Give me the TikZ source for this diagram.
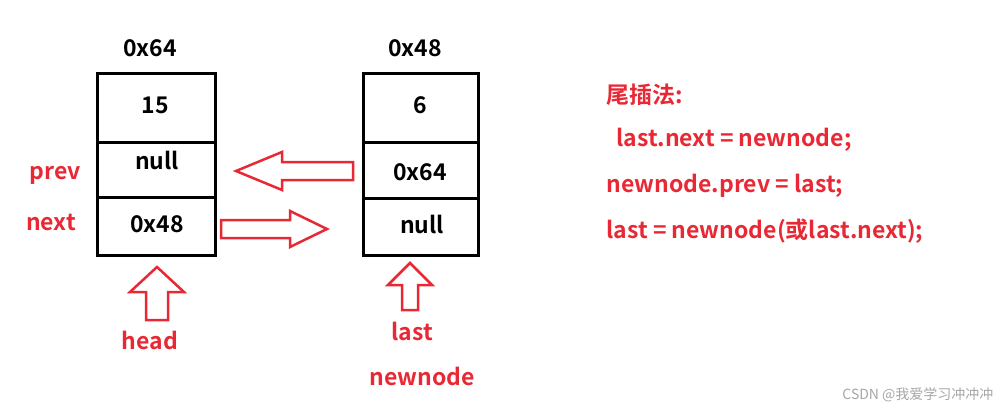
\documentclass[tikz,border=0pt]{standalone}
\usepackage{fontspec}
\setmainfont{Noto Sans CJK SC}[BoldFont={* Bold}]
\definecolor{myred}{RGB}{232,40,52}
\begin{document}
\begin{tikzpicture}[x=1pt,y=-1pt,
  cell/.style={draw=black,line width=3pt},
  t/.style={font=\bfseries\fontsize{23}{26}\selectfont},
  rt/.style={t,text=myred},
  ba/.style={draw=myred,line width=2.5pt,line join=miter}]
\useasboundingbox (0,0) rectangle (1002,412);
\draw[cell] (97,74) rectangle (215,255);
\draw[cell] (97,142) -- (215,142) (97,197) -- (215,197);
\draw[cell] (363,74) rectangle (478,255);
\draw[cell] (363,142) -- (478,142) (363,198) -- (478,198);
\node[t] (a1) at (150,48) {0x64};
\node[t] (a2) at (415,48) {0x48};
\node[t] (l1) at (155,105) {15};
\node[t] (l2) at (157,160) {null};
\node[t] (l3) at (157,224) {0x48};
\node[t] (r1) at (420,105) {6};
\node[t] (r2) at (420,172) {0x64};
\node[t] (r3) at (422,224) {null};
\node[rt] (prev) at (55,175) {prev};
\node[rt] (next) at (51,222) {next};
\node[rt] (head) at (150,340) {head};
\node[rt] (last) at (412,331) {last};
\node[rt] (nn) at (422,376) {newnode};
\draw[ba] (353,162) -- (282,162) -- (282,152) -- (236,171) -- (282,190) -- (282,180) -- (353,180) -- cycle;
\draw[ba] (221,220) -- (290,220) -- (290,211) -- (327,229) -- (290,247) -- (290,238) -- (221,238) -- cycle;
\draw[ba] (157,267) -- (184,292) -- (168,292) -- (168,320) -- (146,320) -- (146,292) -- (130,292) -- cycle;
\draw[ba] (410,263) -- (432,285) -- (418,285) -- (418,310) -- (402,310) -- (402,285) -- (388,285) -- cycle;
\node[rt,anchor=west] (c0) at (603,95) {尾插法:};
\node[rt,anchor=west] (c1) at (613,140) {last.next = newnode;};
\node[rt,anchor=west] (c2) at (603,186) {newnode.prev = last;};
\node[rt,anchor=west] (c3) at (603,231) {last = newnode(或last.next);};
\node[anchor=east,text=black!35,font=\fontsize{14}{16}\selectfont] (wm) at (997,395) {CSDN @我爱学习冲冲冲};
\end{tikzpicture}
\end{document}
